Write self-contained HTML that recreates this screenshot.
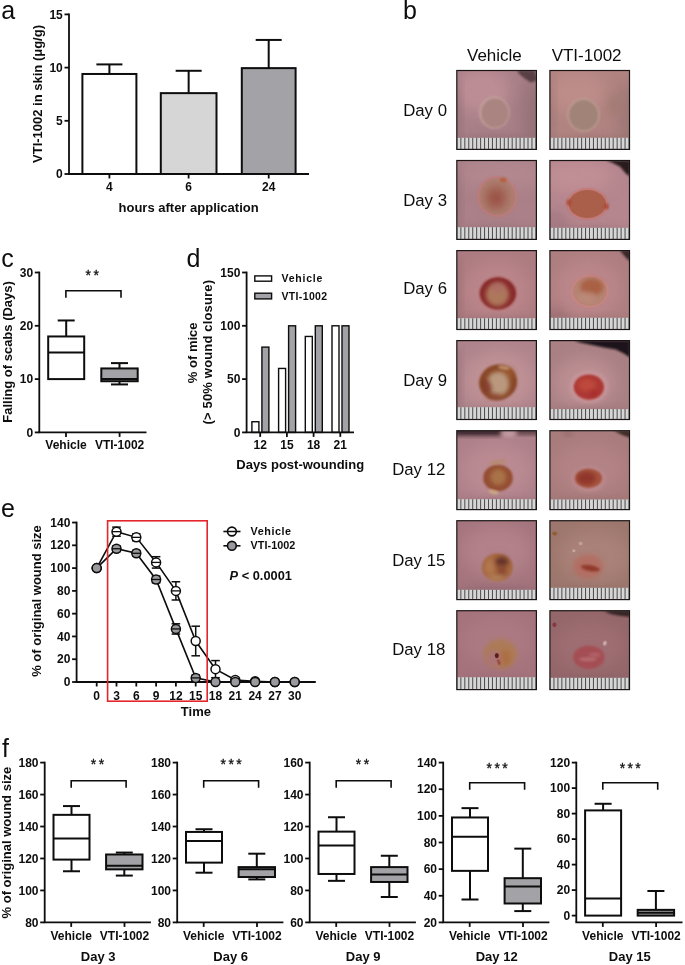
<!DOCTYPE html>
<html lang="en"><head><meta charset="utf-8"><title>Figure</title>
<style>
html,body{margin:0;padding:0;background:#fff;}
svg{display:block;font-family:"Liberation Sans",Arial,sans-serif;}
</style></head>
<body>
<svg width="685" height="965" viewBox="0 0 685 965">
<rect width="685" height="965" fill="#fff"/>
<text x="1.20" y="19.00" font-size="25" font-weight="normal" text-anchor="start" fill="#0d0d0d" >a</text>
<line x1="69.00" y1="13.50" x2="69.00" y2="174.00" stroke="#0d0d0d" stroke-width="1.8" />
<line x1="64.50" y1="14.40" x2="69.00" y2="14.40" stroke="#0d0d0d" stroke-width="1.8" />
<text x="62.80" y="18.54" font-size="12" font-weight="bold" text-anchor="end" fill="#0d0d0d" >15</text>
<line x1="64.50" y1="67.60" x2="69.00" y2="67.60" stroke="#0d0d0d" stroke-width="1.8" />
<text x="62.80" y="71.74" font-size="12" font-weight="bold" text-anchor="end" fill="#0d0d0d" >10</text>
<line x1="64.50" y1="120.80" x2="69.00" y2="120.80" stroke="#0d0d0d" stroke-width="1.8" />
<text x="62.80" y="124.94" font-size="12" font-weight="bold" text-anchor="end" fill="#0d0d0d" >5</text>
<line x1="64.50" y1="174.00" x2="69.00" y2="174.00" stroke="#0d0d0d" stroke-width="1.8" />
<text x="62.80" y="178.14" font-size="12" font-weight="bold" text-anchor="end" fill="#0d0d0d" >0</text>
<line x1="109.40" y1="64.41" x2="109.40" y2="73.98" stroke="#0d0d0d" stroke-width="2.0" />
<line x1="96.40" y1="64.41" x2="122.40" y2="64.41" stroke="#0d0d0d" stroke-width="2.0" />
<rect x="82.40" y="73.98" width="54.00" height="100.02" fill="#fff" stroke="#0d0d0d" stroke-width="2.0" />
<line x1="188.65" y1="70.79" x2="188.65" y2="93.14" stroke="#0d0d0d" stroke-width="2.0" />
<line x1="175.65" y1="70.79" x2="201.65" y2="70.79" stroke="#0d0d0d" stroke-width="2.0" />
<rect x="160.80" y="93.14" width="55.70" height="80.86" fill="#d6d6d6" stroke="#0d0d0d" stroke-width="2.0" />
<line x1="268.70" y1="39.94" x2="268.70" y2="68.13" stroke="#0d0d0d" stroke-width="2.0" />
<line x1="255.70" y1="39.94" x2="281.70" y2="39.94" stroke="#0d0d0d" stroke-width="2.0" />
<rect x="241.80" y="68.13" width="53.80" height="105.87" fill="#a3a3a7" stroke="#0d0d0d" stroke-width="2.0" />
<line x1="68.10" y1="174.00" x2="309.00" y2="174.00" stroke="#0d0d0d" stroke-width="1.8" />
<line x1="109.40" y1="174.00" x2="109.40" y2="178.50" stroke="#0d0d0d" stroke-width="1.8" />
<text x="109.40" y="191.00" font-size="12" font-weight="bold" text-anchor="middle" fill="#0d0d0d" >4</text>
<line x1="188.60" y1="174.00" x2="188.60" y2="178.50" stroke="#0d0d0d" stroke-width="1.8" />
<text x="188.60" y="191.00" font-size="12" font-weight="bold" text-anchor="middle" fill="#0d0d0d" >6</text>
<line x1="268.70" y1="174.00" x2="268.70" y2="178.50" stroke="#0d0d0d" stroke-width="1.8" />
<text x="268.70" y="191.00" font-size="12" font-weight="bold" text-anchor="middle" fill="#0d0d0d" >24</text>
<text x="188.60" y="212.00" font-size="13" font-weight="bold" text-anchor="middle" fill="#0d0d0d" >hours after application</text>
<text transform="translate(42.10 94.00) rotate(-90)" font-size="13" font-weight="bold" text-anchor="middle" fill="#0d0d0d" >VTI-1002 in skin (μg/g)</text>
<text x="1.20" y="267.10" font-size="25" font-weight="normal" text-anchor="start" fill="#0d0d0d" >c</text>
<line x1="39.30" y1="271.60" x2="39.30" y2="432.40" stroke="#0d0d0d" stroke-width="1.8" />
<line x1="34.80" y1="272.50" x2="39.30" y2="272.50" stroke="#0d0d0d" stroke-width="1.8" />
<text x="33.10" y="276.64" font-size="12" font-weight="bold" text-anchor="end" fill="#0d0d0d" >30</text>
<line x1="34.80" y1="325.80" x2="39.30" y2="325.80" stroke="#0d0d0d" stroke-width="1.8" />
<text x="33.10" y="329.94" font-size="12" font-weight="bold" text-anchor="end" fill="#0d0d0d" >20</text>
<line x1="34.80" y1="379.10" x2="39.30" y2="379.10" stroke="#0d0d0d" stroke-width="1.8" />
<text x="33.10" y="383.24" font-size="12" font-weight="bold" text-anchor="end" fill="#0d0d0d" >10</text>
<line x1="34.80" y1="432.40" x2="39.30" y2="432.40" stroke="#0d0d0d" stroke-width="1.8" />
<text x="33.10" y="436.54" font-size="12" font-weight="bold" text-anchor="end" fill="#0d0d0d" >0</text>
<line x1="38.40" y1="432.40" x2="146.50" y2="432.40" stroke="#0d0d0d" stroke-width="1.8" />
<line x1="66.00" y1="432.40" x2="66.00" y2="436.90" stroke="#0d0d0d" stroke-width="1.8" />
<text x="66.00" y="449.00" font-size="12" font-weight="bold" text-anchor="middle" fill="#0d0d0d" >Vehicle</text>
<line x1="119.60" y1="432.40" x2="119.60" y2="436.90" stroke="#0d0d0d" stroke-width="1.8" />
<text x="119.60" y="449.00" font-size="12" font-weight="bold" text-anchor="middle" fill="#0d0d0d" >VTI-1002</text>
<line x1="66.20" y1="320.47" x2="66.20" y2="336.46" stroke="#0d0d0d" stroke-width="2.0" />
<line x1="57.70" y1="320.47" x2="74.70" y2="320.47" stroke="#0d0d0d" stroke-width="2.0" />
<rect x="48.20" y="336.46" width="36.00" height="42.64" fill="#fff" stroke="#0d0d0d" stroke-width="2.0" />
<line x1="48.20" y1="352.45" x2="84.20" y2="352.45" stroke="#0d0d0d" stroke-width="2.0" />
<line x1="119.50" y1="363.11" x2="119.50" y2="368.44" stroke="#0d0d0d" stroke-width="2.0" />
<line x1="111.00" y1="363.11" x2="128.00" y2="363.11" stroke="#0d0d0d" stroke-width="2.0" />
<line x1="119.50" y1="381.23" x2="119.50" y2="384.43" stroke="#0d0d0d" stroke-width="2.0" />
<line x1="111.00" y1="384.43" x2="128.00" y2="384.43" stroke="#0d0d0d" stroke-width="2.0" />
<rect x="101.30" y="368.44" width="36.40" height="12.79" fill="#a3a3a7" stroke="#0d0d0d" stroke-width="2.0" />
<line x1="101.30" y1="379.10" x2="137.70" y2="379.10" stroke="#0d0d0d" stroke-width="2.0" />
<polyline points="65.90,297.80 65.90,290.80 121.00,290.80 121.00,297.80" fill="none" stroke="#0d0d0d" stroke-width="1.6"/>
<text x="93.45" y="280.20" font-size="14" font-weight="normal" text-anchor="middle" fill="#0d0d0d" letter-spacing="2.4" stroke="#0d0d0d" stroke-width="0.3">**</text>
<text transform="translate(12.10 351.90) rotate(-90)" font-size="13" font-weight="bold" text-anchor="middle" fill="#0d0d0d" >Falling of scabs (Days)</text>
<text x="186.60" y="267.10" font-size="25" font-weight="normal" text-anchor="start" fill="#0d0d0d" >d</text>
<line x1="246.60" y1="271.60" x2="246.60" y2="432.40" stroke="#0d0d0d" stroke-width="1.8" />
<line x1="242.10" y1="272.50" x2="246.60" y2="272.50" stroke="#0d0d0d" stroke-width="1.8" />
<text x="240.40" y="276.64" font-size="12" font-weight="bold" text-anchor="end" fill="#0d0d0d" >150</text>
<line x1="242.10" y1="325.80" x2="246.60" y2="325.80" stroke="#0d0d0d" stroke-width="1.8" />
<text x="240.40" y="329.94" font-size="12" font-weight="bold" text-anchor="end" fill="#0d0d0d" >100</text>
<line x1="242.10" y1="379.10" x2="246.60" y2="379.10" stroke="#0d0d0d" stroke-width="1.8" />
<text x="240.40" y="383.24" font-size="12" font-weight="bold" text-anchor="end" fill="#0d0d0d" >50</text>
<line x1="242.10" y1="432.40" x2="246.60" y2="432.40" stroke="#0d0d0d" stroke-width="1.8" />
<text x="240.40" y="436.54" font-size="12" font-weight="bold" text-anchor="end" fill="#0d0d0d" >0</text>
<rect x="251.90" y="421.74" width="7.00" height="10.66" fill="#fff" stroke="#0d0d0d" stroke-width="1.4" />
<rect x="261.90" y="347.12" width="7.00" height="85.28" fill="#a3a3a7" stroke="#0d0d0d" stroke-width="1.4" />
<rect x="278.60" y="368.44" width="7.00" height="63.96" fill="#fff" stroke="#0d0d0d" stroke-width="1.4" />
<rect x="288.60" y="325.80" width="7.00" height="106.60" fill="#a3a3a7" stroke="#0d0d0d" stroke-width="1.4" />
<rect x="305.30" y="336.46" width="7.00" height="95.94" fill="#fff" stroke="#0d0d0d" stroke-width="1.4" />
<rect x="315.30" y="325.80" width="7.00" height="106.60" fill="#a3a3a7" stroke="#0d0d0d" stroke-width="1.4" />
<rect x="332.00" y="325.80" width="7.00" height="106.60" fill="#fff" stroke="#0d0d0d" stroke-width="1.4" />
<rect x="342.00" y="325.80" width="7.00" height="106.60" fill="#a3a3a7" stroke="#0d0d0d" stroke-width="1.4" />
<line x1="245.70" y1="432.40" x2="354.00" y2="432.40" stroke="#0d0d0d" stroke-width="1.8" />
<line x1="260.20" y1="432.40" x2="260.20" y2="436.90" stroke="#0d0d0d" stroke-width="1.8" />
<text x="260.20" y="449.30" font-size="12" font-weight="bold" text-anchor="middle" fill="#0d0d0d" >12</text>
<line x1="286.90" y1="432.40" x2="286.90" y2="436.90" stroke="#0d0d0d" stroke-width="1.8" />
<text x="286.90" y="449.30" font-size="12" font-weight="bold" text-anchor="middle" fill="#0d0d0d" >15</text>
<line x1="313.60" y1="432.40" x2="313.60" y2="436.90" stroke="#0d0d0d" stroke-width="1.8" />
<text x="313.60" y="449.30" font-size="12" font-weight="bold" text-anchor="middle" fill="#0d0d0d" >18</text>
<line x1="340.30" y1="432.40" x2="340.30" y2="436.90" stroke="#0d0d0d" stroke-width="1.8" />
<text x="340.30" y="449.30" font-size="12" font-weight="bold" text-anchor="middle" fill="#0d0d0d" >21</text>
<text x="300.20" y="469.00" font-size="13" font-weight="bold" text-anchor="middle" fill="#0d0d0d" >Days post-wounding</text>
<text transform="translate(197.00 352.80) rotate(-90)" font-size="13" font-weight="bold" text-anchor="middle" fill="#0d0d0d" >% of mice</text>
<text transform="translate(212.40 352.20) rotate(-90)" font-size="13" font-weight="bold" text-anchor="middle" fill="#0d0d0d" textLength="144.5" lengthAdjust="spacing">(&gt; 50% wound closure)</text>
<rect x="254.80" y="275.90" width="16.80" height="5.30" fill="#fff" stroke="#0d0d0d" stroke-width="1.4" />
<rect x="254.80" y="293.20" width="16.80" height="5.70" fill="#a3a3a7" stroke="#0d0d0d" stroke-width="1.4" />
<text x="281.50" y="281.90" font-size="10.5" font-weight="bold" text-anchor="start" fill="#0d0d0d" textLength="40.9" lengthAdjust="spacing">Vehicle</text>
<text x="281.50" y="299.80" font-size="10.5" font-weight="bold" text-anchor="start" fill="#0d0d0d" textLength="45.6" lengthAdjust="spacing">VTI-1002</text>
<text x="0.90" y="517.00" font-size="25" font-weight="normal" text-anchor="start" fill="#0d0d0d" >e</text>
<line x1="76.60" y1="521.64" x2="76.60" y2="682.00" stroke="#0d0d0d" stroke-width="1.8" />
<line x1="72.10" y1="682.00" x2="76.60" y2="682.00" stroke="#0d0d0d" stroke-width="1.8" />
<text x="70.40" y="686.14" font-size="12" font-weight="bold" text-anchor="end" fill="#0d0d0d" >0</text>
<line x1="72.10" y1="659.22" x2="76.60" y2="659.22" stroke="#0d0d0d" stroke-width="1.8" />
<text x="70.40" y="663.36" font-size="12" font-weight="bold" text-anchor="end" fill="#0d0d0d" >20</text>
<line x1="72.10" y1="636.44" x2="76.60" y2="636.44" stroke="#0d0d0d" stroke-width="1.8" />
<text x="70.40" y="640.58" font-size="12" font-weight="bold" text-anchor="end" fill="#0d0d0d" >40</text>
<line x1="72.10" y1="613.66" x2="76.60" y2="613.66" stroke="#0d0d0d" stroke-width="1.8" />
<text x="70.40" y="617.80" font-size="12" font-weight="bold" text-anchor="end" fill="#0d0d0d" >60</text>
<line x1="72.10" y1="590.88" x2="76.60" y2="590.88" stroke="#0d0d0d" stroke-width="1.8" />
<text x="70.40" y="595.02" font-size="12" font-weight="bold" text-anchor="end" fill="#0d0d0d" >80</text>
<line x1="72.10" y1="568.10" x2="76.60" y2="568.10" stroke="#0d0d0d" stroke-width="1.8" />
<text x="70.40" y="572.24" font-size="12" font-weight="bold" text-anchor="end" fill="#0d0d0d" >100</text>
<line x1="72.10" y1="545.32" x2="76.60" y2="545.32" stroke="#0d0d0d" stroke-width="1.8" />
<text x="70.40" y="549.46" font-size="12" font-weight="bold" text-anchor="end" fill="#0d0d0d" >120</text>
<line x1="72.10" y1="522.54" x2="76.60" y2="522.54" stroke="#0d0d0d" stroke-width="1.8" />
<text x="70.40" y="526.68" font-size="12" font-weight="bold" text-anchor="end" fill="#0d0d0d" >140</text>
<line x1="75.70" y1="682.00" x2="315.80" y2="682.00" stroke="#0d0d0d" stroke-width="1.8" />
<line x1="96.70" y1="682.00" x2="96.70" y2="686.50" stroke="#0d0d0d" stroke-width="1.8" />
<text x="96.70" y="699.50" font-size="12" font-weight="bold" text-anchor="middle" fill="#0d0d0d" >0</text>
<line x1="116.50" y1="682.00" x2="116.50" y2="686.50" stroke="#0d0d0d" stroke-width="1.8" />
<text x="116.50" y="699.50" font-size="12" font-weight="bold" text-anchor="middle" fill="#0d0d0d" >3</text>
<line x1="136.30" y1="682.00" x2="136.30" y2="686.50" stroke="#0d0d0d" stroke-width="1.8" />
<text x="136.30" y="699.50" font-size="12" font-weight="bold" text-anchor="middle" fill="#0d0d0d" >6</text>
<line x1="156.10" y1="682.00" x2="156.10" y2="686.50" stroke="#0d0d0d" stroke-width="1.8" />
<text x="156.10" y="699.50" font-size="12" font-weight="bold" text-anchor="middle" fill="#0d0d0d" >9</text>
<line x1="175.90" y1="682.00" x2="175.90" y2="686.50" stroke="#0d0d0d" stroke-width="1.8" />
<text x="175.90" y="699.50" font-size="12" font-weight="bold" text-anchor="middle" fill="#0d0d0d" >12</text>
<line x1="195.70" y1="682.00" x2="195.70" y2="686.50" stroke="#0d0d0d" stroke-width="1.8" />
<text x="195.70" y="699.50" font-size="12" font-weight="bold" text-anchor="middle" fill="#0d0d0d" >15</text>
<line x1="215.50" y1="682.00" x2="215.50" y2="686.50" stroke="#0d0d0d" stroke-width="1.8" />
<text x="215.50" y="699.50" font-size="12" font-weight="bold" text-anchor="middle" fill="#0d0d0d" >18</text>
<line x1="235.30" y1="682.00" x2="235.30" y2="686.50" stroke="#0d0d0d" stroke-width="1.8" />
<text x="235.30" y="699.50" font-size="12" font-weight="bold" text-anchor="middle" fill="#0d0d0d" >21</text>
<line x1="255.10" y1="682.00" x2="255.10" y2="686.50" stroke="#0d0d0d" stroke-width="1.8" />
<text x="255.10" y="699.50" font-size="12" font-weight="bold" text-anchor="middle" fill="#0d0d0d" >24</text>
<line x1="274.90" y1="682.00" x2="274.90" y2="686.50" stroke="#0d0d0d" stroke-width="1.8" />
<text x="274.90" y="699.50" font-size="12" font-weight="bold" text-anchor="middle" fill="#0d0d0d" >27</text>
<line x1="294.70" y1="682.00" x2="294.70" y2="686.50" stroke="#0d0d0d" stroke-width="1.8" />
<text x="294.70" y="699.50" font-size="12" font-weight="bold" text-anchor="middle" fill="#0d0d0d" >30</text>
<text x="195.90" y="716.00" font-size="13" font-weight="bold" text-anchor="middle" fill="#0d0d0d" >Time</text>
<text transform="translate(41.20 601.00) rotate(-90)" font-size="13" font-weight="bold" text-anchor="middle" fill="#0d0d0d" >% of original wound size</text>
<polyline points="96.70,568.10 116.50,531.65 136.30,537.35 156.10,562.40 175.90,590.88 195.70,641.00 215.50,669.13 235.30,679.95 255.10,681.32 274.90,682.00 294.70,682.00" fill="none" stroke="#0d0d0d" stroke-width="1.6"/>
<line x1="116.50" y1="527.10" x2="116.50" y2="536.21" stroke="#0d0d0d" stroke-width="1.5" />
<line x1="112.20" y1="527.10" x2="120.80" y2="527.10" stroke="#0d0d0d" stroke-width="1.5" />
<line x1="112.20" y1="536.21" x2="120.80" y2="536.21" stroke="#0d0d0d" stroke-width="1.5" />
<line x1="136.30" y1="533.93" x2="136.30" y2="540.76" stroke="#0d0d0d" stroke-width="1.5" />
<line x1="132.00" y1="533.93" x2="140.60" y2="533.93" stroke="#0d0d0d" stroke-width="1.5" />
<line x1="132.00" y1="540.76" x2="140.60" y2="540.76" stroke="#0d0d0d" stroke-width="1.5" />
<line x1="156.10" y1="556.71" x2="156.10" y2="568.10" stroke="#0d0d0d" stroke-width="1.5" />
<line x1="151.80" y1="556.71" x2="160.40" y2="556.71" stroke="#0d0d0d" stroke-width="1.5" />
<line x1="151.80" y1="568.10" x2="160.40" y2="568.10" stroke="#0d0d0d" stroke-width="1.5" />
<line x1="175.90" y1="581.77" x2="175.90" y2="599.99" stroke="#0d0d0d" stroke-width="1.5" />
<line x1="171.60" y1="581.77" x2="180.20" y2="581.77" stroke="#0d0d0d" stroke-width="1.5" />
<line x1="171.60" y1="599.99" x2="180.20" y2="599.99" stroke="#0d0d0d" stroke-width="1.5" />
<line x1="195.70" y1="626.19" x2="195.70" y2="655.80" stroke="#0d0d0d" stroke-width="1.5" />
<line x1="191.40" y1="626.19" x2="200.00" y2="626.19" stroke="#0d0d0d" stroke-width="1.5" />
<line x1="191.40" y1="655.80" x2="200.00" y2="655.80" stroke="#0d0d0d" stroke-width="1.5" />
<line x1="215.50" y1="660.59" x2="215.50" y2="677.67" stroke="#0d0d0d" stroke-width="1.5" />
<line x1="211.20" y1="660.59" x2="219.80" y2="660.59" stroke="#0d0d0d" stroke-width="1.5" />
<line x1="211.20" y1="677.67" x2="219.80" y2="677.67" stroke="#0d0d0d" stroke-width="1.5" />
<line x1="235.30" y1="678.24" x2="235.30" y2="681.66" stroke="#0d0d0d" stroke-width="1.5" />
<line x1="231.00" y1="678.24" x2="239.60" y2="678.24" stroke="#0d0d0d" stroke-width="1.5" />
<line x1="231.00" y1="681.66" x2="239.60" y2="681.66" stroke="#0d0d0d" stroke-width="1.5" />
<line x1="255.10" y1="680.75" x2="255.10" y2="681.89" stroke="#0d0d0d" stroke-width="1.5" />
<line x1="250.80" y1="680.75" x2="259.40" y2="680.75" stroke="#0d0d0d" stroke-width="1.5" />
<line x1="250.80" y1="681.89" x2="259.40" y2="681.89" stroke="#0d0d0d" stroke-width="1.5" />
<circle cx="96.70" cy="568.10" r="4.5" fill="#fff" stroke="#0d0d0d" stroke-width="1.5"/>
<circle cx="116.50" cy="531.65" r="4.5" fill="#fff" stroke="#0d0d0d" stroke-width="1.5"/>
<line x1="112.00" y1="531.65" x2="121.00" y2="531.65" stroke="#0d0d0d" stroke-width="1.3" />
<circle cx="136.30" cy="537.35" r="4.5" fill="#fff" stroke="#0d0d0d" stroke-width="1.5"/>
<line x1="131.80" y1="537.35" x2="140.80" y2="537.35" stroke="#0d0d0d" stroke-width="1.3" />
<circle cx="156.10" cy="562.40" r="4.5" fill="#fff" stroke="#0d0d0d" stroke-width="1.5"/>
<line x1="151.60" y1="562.40" x2="160.60" y2="562.40" stroke="#0d0d0d" stroke-width="1.3" />
<circle cx="175.90" cy="590.88" r="4.5" fill="#fff" stroke="#0d0d0d" stroke-width="1.5"/>
<line x1="171.40" y1="590.88" x2="180.40" y2="590.88" stroke="#0d0d0d" stroke-width="1.3" />
<circle cx="195.70" cy="641.00" r="4.5" fill="#fff" stroke="#0d0d0d" stroke-width="1.5"/>
<circle cx="215.50" cy="669.13" r="4.5" fill="#fff" stroke="#0d0d0d" stroke-width="1.5"/>
<circle cx="235.30" cy="679.95" r="4.5" fill="#fff" stroke="#0d0d0d" stroke-width="1.5"/>
<circle cx="255.10" cy="681.32" r="4.5" fill="#fff" stroke="#0d0d0d" stroke-width="1.5"/>
<circle cx="274.90" cy="682.00" r="4.5" fill="#fff" stroke="#0d0d0d" stroke-width="1.5"/>
<circle cx="294.70" cy="682.00" r="4.5" fill="#fff" stroke="#0d0d0d" stroke-width="1.5"/>
<polyline points="96.70,568.10 116.50,548.74 136.30,553.29 156.10,579.49 175.90,628.92 195.70,677.90 215.50,682.00 235.30,682.00 255.10,682.00 274.90,682.00 294.70,682.00" fill="none" stroke="#0d0d0d" stroke-width="1.6"/>
<line x1="116.50" y1="545.89" x2="116.50" y2="551.58" stroke="#0d0d0d" stroke-width="1.5" />
<line x1="112.20" y1="545.89" x2="120.80" y2="545.89" stroke="#0d0d0d" stroke-width="1.5" />
<line x1="112.20" y1="551.58" x2="120.80" y2="551.58" stroke="#0d0d0d" stroke-width="1.5" />
<line x1="136.30" y1="550.45" x2="136.30" y2="556.14" stroke="#0d0d0d" stroke-width="1.5" />
<line x1="132.00" y1="550.45" x2="140.60" y2="550.45" stroke="#0d0d0d" stroke-width="1.5" />
<line x1="132.00" y1="556.14" x2="140.60" y2="556.14" stroke="#0d0d0d" stroke-width="1.5" />
<line x1="156.10" y1="576.07" x2="156.10" y2="582.91" stroke="#0d0d0d" stroke-width="1.5" />
<line x1="151.80" y1="576.07" x2="160.40" y2="576.07" stroke="#0d0d0d" stroke-width="1.5" />
<line x1="151.80" y1="582.91" x2="160.40" y2="582.91" stroke="#0d0d0d" stroke-width="1.5" />
<line x1="175.90" y1="623.80" x2="175.90" y2="634.05" stroke="#0d0d0d" stroke-width="1.5" />
<line x1="171.60" y1="623.80" x2="180.20" y2="623.80" stroke="#0d0d0d" stroke-width="1.5" />
<line x1="171.60" y1="634.05" x2="180.20" y2="634.05" stroke="#0d0d0d" stroke-width="1.5" />
<line x1="195.70" y1="675.05" x2="195.70" y2="680.75" stroke="#0d0d0d" stroke-width="1.5" />
<line x1="191.40" y1="675.05" x2="200.00" y2="675.05" stroke="#0d0d0d" stroke-width="1.5" />
<line x1="191.40" y1="680.75" x2="200.00" y2="680.75" stroke="#0d0d0d" stroke-width="1.5" />
<circle cx="96.70" cy="568.10" r="4.5" fill="#9a9a9e" stroke="#0d0d0d" stroke-width="1.5"/>
<circle cx="116.50" cy="548.74" r="4.5" fill="#9a9a9e" stroke="#0d0d0d" stroke-width="1.5"/>
<line x1="112.00" y1="548.74" x2="121.00" y2="548.74" stroke="#0d0d0d" stroke-width="1.3" />
<circle cx="136.30" cy="553.29" r="4.5" fill="#9a9a9e" stroke="#0d0d0d" stroke-width="1.5"/>
<line x1="131.80" y1="553.29" x2="140.80" y2="553.29" stroke="#0d0d0d" stroke-width="1.3" />
<circle cx="156.10" cy="579.49" r="4.5" fill="#9a9a9e" stroke="#0d0d0d" stroke-width="1.5"/>
<line x1="151.60" y1="579.49" x2="160.60" y2="579.49" stroke="#0d0d0d" stroke-width="1.3" />
<circle cx="175.90" cy="628.92" r="4.5" fill="#9a9a9e" stroke="#0d0d0d" stroke-width="1.5"/>
<line x1="171.40" y1="628.92" x2="180.40" y2="628.92" stroke="#0d0d0d" stroke-width="1.3" />
<circle cx="195.70" cy="677.90" r="4.5" fill="#9a9a9e" stroke="#0d0d0d" stroke-width="1.5"/>
<line x1="191.20" y1="677.90" x2="200.20" y2="677.90" stroke="#0d0d0d" stroke-width="1.3" />
<circle cx="215.50" cy="682.00" r="4.5" fill="#9a9a9e" stroke="#0d0d0d" stroke-width="1.5"/>
<circle cx="235.30" cy="682.00" r="4.5" fill="#9a9a9e" stroke="#0d0d0d" stroke-width="1.5"/>
<circle cx="255.10" cy="682.00" r="4.5" fill="#9a9a9e" stroke="#0d0d0d" stroke-width="1.5"/>
<circle cx="274.90" cy="682.00" r="4.5" fill="#9a9a9e" stroke="#0d0d0d" stroke-width="1.5"/>
<circle cx="294.70" cy="682.00" r="4.5" fill="#9a9a9e" stroke="#0d0d0d" stroke-width="1.5"/>
<rect x="107.6" y="520.8" width="99.6" height="180.4" fill="none" stroke="#e3262b" stroke-width="1.6"/>
<line x1="223.40" y1="531.50" x2="240.50" y2="531.50" stroke="#0d0d0d" stroke-width="1.6" />
<circle cx="231.9" cy="531.5" r="4.4" fill="#fff" stroke="#0d0d0d" stroke-width="1.6"/>
<line x1="223.40" y1="545.80" x2="240.50" y2="545.80" stroke="#0d0d0d" stroke-width="1.6" />
<circle cx="231.9" cy="545.8" r="4.4" fill="#9a9a9e" stroke="#0d0d0d" stroke-width="1.6"/>
<line x1="227.50" y1="531.50" x2="236.30" y2="531.50" stroke="#0d0d0d" stroke-width="1.5" />
<text x="250.60" y="535.20" font-size="10.8" font-weight="bold" text-anchor="start" fill="#0d0d0d" textLength="40.4" lengthAdjust="spacing">Vehicle</text>
<text x="250.60" y="549.30" font-size="10.8" font-weight="bold" text-anchor="start" fill="#0d0d0d" textLength="44.7" lengthAdjust="spacing">VTI-1002</text>
<text x="229.6" y="579.8" font-size="12.8" font-weight="bold" fill="#0d0d0d"><tspan font-style="italic">P</tspan> &lt; 0.0001</text>
<text x="2.10" y="757.00" font-size="25" font-weight="normal" text-anchor="start" fill="#0d0d0d" >f</text>
<text transform="translate(11.40 842.60) rotate(-90)" font-size="13" font-weight="bold" text-anchor="middle" fill="#0d0d0d" >% of original wound size</text>
<line x1="44.70" y1="761.70" x2="44.70" y2="922.40" stroke="#0d0d0d" stroke-width="1.8" />
<line x1="40.20" y1="762.60" x2="44.70" y2="762.60" stroke="#0d0d0d" stroke-width="1.8" />
<text x="38.50" y="766.74" font-size="12" font-weight="bold" text-anchor="end" fill="#0d0d0d" >180</text>
<line x1="40.20" y1="794.56" x2="44.70" y2="794.56" stroke="#0d0d0d" stroke-width="1.8" />
<text x="38.50" y="798.70" font-size="12" font-weight="bold" text-anchor="end" fill="#0d0d0d" >160</text>
<line x1="40.20" y1="826.52" x2="44.70" y2="826.52" stroke="#0d0d0d" stroke-width="1.8" />
<text x="38.50" y="830.66" font-size="12" font-weight="bold" text-anchor="end" fill="#0d0d0d" >140</text>
<line x1="40.20" y1="858.48" x2="44.70" y2="858.48" stroke="#0d0d0d" stroke-width="1.8" />
<text x="38.50" y="862.62" font-size="12" font-weight="bold" text-anchor="end" fill="#0d0d0d" >120</text>
<line x1="40.20" y1="890.44" x2="44.70" y2="890.44" stroke="#0d0d0d" stroke-width="1.8" />
<text x="38.50" y="894.58" font-size="12" font-weight="bold" text-anchor="end" fill="#0d0d0d" >100</text>
<line x1="40.20" y1="922.40" x2="44.70" y2="922.40" stroke="#0d0d0d" stroke-width="1.8" />
<text x="38.50" y="926.54" font-size="12" font-weight="bold" text-anchor="end" fill="#0d0d0d" >80</text>
<line x1="43.80" y1="922.40" x2="150.90" y2="922.40" stroke="#0d0d0d" stroke-width="1.8" />
<line x1="71.20" y1="922.40" x2="71.20" y2="926.90" stroke="#0d0d0d" stroke-width="1.8" />
<text x="71.20" y="939.80" font-size="12" font-weight="bold" text-anchor="middle" fill="#0d0d0d" >Vehicle</text>
<line x1="124.50" y1="922.40" x2="124.50" y2="926.90" stroke="#0d0d0d" stroke-width="1.8" />
<text x="124.50" y="939.80" font-size="12" font-weight="bold" text-anchor="middle" fill="#0d0d0d" >VTI-1002</text>
<text x="98.20" y="961.00" font-size="13" font-weight="bold" text-anchor="middle" fill="#0d0d0d" >Day 3</text>
<line x1="71.50" y1="806.07" x2="71.50" y2="814.85" stroke="#0d0d0d" stroke-width="2.0" />
<line x1="63.00" y1="806.07" x2="80.00" y2="806.07" stroke="#0d0d0d" stroke-width="2.0" />
<line x1="71.50" y1="859.60" x2="71.50" y2="871.26" stroke="#0d0d0d" stroke-width="2.0" />
<line x1="63.00" y1="871.26" x2="80.00" y2="871.26" stroke="#0d0d0d" stroke-width="2.0" />
<rect x="53.50" y="814.85" width="36.00" height="44.74" fill="#fff" stroke="#0d0d0d" stroke-width="2.0" />
<line x1="53.50" y1="838.50" x2="89.50" y2="838.50" stroke="#0d0d0d" stroke-width="2.0" />
<line x1="124.30" y1="852.57" x2="124.30" y2="854.49" stroke="#0d0d0d" stroke-width="2.0" />
<line x1="115.80" y1="852.57" x2="132.80" y2="852.57" stroke="#0d0d0d" stroke-width="2.0" />
<line x1="124.30" y1="869.35" x2="124.30" y2="875.58" stroke="#0d0d0d" stroke-width="2.0" />
<line x1="115.80" y1="875.58" x2="132.80" y2="875.58" stroke="#0d0d0d" stroke-width="2.0" />
<rect x="106.10" y="854.49" width="36.40" height="14.86" fill="#a3a3a7" stroke="#0d0d0d" stroke-width="2.0" />
<line x1="106.10" y1="865.83" x2="142.50" y2="865.83" stroke="#0d0d0d" stroke-width="2.0" />
<polyline points="71.20,787.80 71.20,780.70 126.10,780.70 126.10,787.80" fill="none" stroke="#0d0d0d" stroke-width="1.6"/>
<text x="98.65" y="769.00" font-size="14" font-weight="normal" text-anchor="middle" fill="#0d0d0d" letter-spacing="2.4" stroke="#0d0d0d" stroke-width="0.3">**</text>
<line x1="177.20" y1="761.70" x2="177.20" y2="922.40" stroke="#0d0d0d" stroke-width="1.8" />
<line x1="172.70" y1="762.60" x2="177.20" y2="762.60" stroke="#0d0d0d" stroke-width="1.8" />
<text x="171.00" y="766.74" font-size="12" font-weight="bold" text-anchor="end" fill="#0d0d0d" >180</text>
<line x1="172.70" y1="794.56" x2="177.20" y2="794.56" stroke="#0d0d0d" stroke-width="1.8" />
<text x="171.00" y="798.70" font-size="12" font-weight="bold" text-anchor="end" fill="#0d0d0d" >160</text>
<line x1="172.70" y1="826.52" x2="177.20" y2="826.52" stroke="#0d0d0d" stroke-width="1.8" />
<text x="171.00" y="830.66" font-size="12" font-weight="bold" text-anchor="end" fill="#0d0d0d" >140</text>
<line x1="172.70" y1="858.48" x2="177.20" y2="858.48" stroke="#0d0d0d" stroke-width="1.8" />
<text x="171.00" y="862.62" font-size="12" font-weight="bold" text-anchor="end" fill="#0d0d0d" >120</text>
<line x1="172.70" y1="890.44" x2="177.20" y2="890.44" stroke="#0d0d0d" stroke-width="1.8" />
<text x="171.00" y="894.58" font-size="12" font-weight="bold" text-anchor="end" fill="#0d0d0d" >100</text>
<line x1="172.70" y1="922.40" x2="177.20" y2="922.40" stroke="#0d0d0d" stroke-width="1.8" />
<text x="171.00" y="926.54" font-size="12" font-weight="bold" text-anchor="end" fill="#0d0d0d" >80</text>
<line x1="176.30" y1="922.40" x2="283.40" y2="922.40" stroke="#0d0d0d" stroke-width="1.8" />
<line x1="203.70" y1="922.40" x2="203.70" y2="926.90" stroke="#0d0d0d" stroke-width="1.8" />
<text x="203.70" y="939.80" font-size="12" font-weight="bold" text-anchor="middle" fill="#0d0d0d" >Vehicle</text>
<line x1="257.00" y1="922.40" x2="257.00" y2="926.90" stroke="#0d0d0d" stroke-width="1.8" />
<text x="257.00" y="939.80" font-size="12" font-weight="bold" text-anchor="middle" fill="#0d0d0d" >VTI-1002</text>
<text x="230.70" y="961.00" font-size="13" font-weight="bold" text-anchor="middle" fill="#0d0d0d" >Day 6</text>
<line x1="204.00" y1="829.24" x2="204.00" y2="831.95" stroke="#0d0d0d" stroke-width="2.0" />
<line x1="195.50" y1="829.24" x2="212.50" y2="829.24" stroke="#0d0d0d" stroke-width="2.0" />
<line x1="204.00" y1="862.63" x2="204.00" y2="872.70" stroke="#0d0d0d" stroke-width="2.0" />
<line x1="195.50" y1="872.70" x2="212.50" y2="872.70" stroke="#0d0d0d" stroke-width="2.0" />
<rect x="186.00" y="831.95" width="36.00" height="30.68" fill="#fff" stroke="#0d0d0d" stroke-width="2.0" />
<line x1="186.00" y1="841.06" x2="222.00" y2="841.06" stroke="#0d0d0d" stroke-width="2.0" />
<line x1="256.80" y1="853.69" x2="256.80" y2="867.11" stroke="#0d0d0d" stroke-width="2.0" />
<line x1="248.30" y1="853.69" x2="265.30" y2="853.69" stroke="#0d0d0d" stroke-width="2.0" />
<line x1="256.80" y1="877.02" x2="256.80" y2="879.41" stroke="#0d0d0d" stroke-width="2.0" />
<line x1="248.30" y1="879.41" x2="265.30" y2="879.41" stroke="#0d0d0d" stroke-width="2.0" />
<rect x="238.60" y="867.11" width="36.40" height="9.91" fill="#a3a3a7" stroke="#0d0d0d" stroke-width="2.0" />
<line x1="238.60" y1="869.35" x2="275.00" y2="869.35" stroke="#0d0d0d" stroke-width="2.0" />
<polyline points="203.70,787.80 203.70,780.70 258.60,780.70 258.60,787.80" fill="none" stroke="#0d0d0d" stroke-width="1.6"/>
<text x="232.35" y="769.00" font-size="14" font-weight="normal" text-anchor="middle" fill="#0d0d0d" letter-spacing="2.4" stroke="#0d0d0d" stroke-width="0.3">***</text>
<line x1="309.70" y1="761.70" x2="309.70" y2="922.40" stroke="#0d0d0d" stroke-width="1.8" />
<line x1="305.20" y1="762.60" x2="309.70" y2="762.60" stroke="#0d0d0d" stroke-width="1.8" />
<text x="303.50" y="766.74" font-size="12" font-weight="bold" text-anchor="end" fill="#0d0d0d" >160</text>
<line x1="305.20" y1="794.56" x2="309.70" y2="794.56" stroke="#0d0d0d" stroke-width="1.8" />
<text x="303.50" y="798.70" font-size="12" font-weight="bold" text-anchor="end" fill="#0d0d0d" >140</text>
<line x1="305.20" y1="826.52" x2="309.70" y2="826.52" stroke="#0d0d0d" stroke-width="1.8" />
<text x="303.50" y="830.66" font-size="12" font-weight="bold" text-anchor="end" fill="#0d0d0d" >120</text>
<line x1="305.20" y1="858.48" x2="309.70" y2="858.48" stroke="#0d0d0d" stroke-width="1.8" />
<text x="303.50" y="862.62" font-size="12" font-weight="bold" text-anchor="end" fill="#0d0d0d" >100</text>
<line x1="305.20" y1="890.44" x2="309.70" y2="890.44" stroke="#0d0d0d" stroke-width="1.8" />
<text x="303.50" y="894.58" font-size="12" font-weight="bold" text-anchor="end" fill="#0d0d0d" >80</text>
<line x1="305.20" y1="922.40" x2="309.70" y2="922.40" stroke="#0d0d0d" stroke-width="1.8" />
<text x="303.50" y="926.54" font-size="12" font-weight="bold" text-anchor="end" fill="#0d0d0d" >60</text>
<line x1="308.80" y1="922.40" x2="415.90" y2="922.40" stroke="#0d0d0d" stroke-width="1.8" />
<line x1="336.20" y1="922.40" x2="336.20" y2="926.90" stroke="#0d0d0d" stroke-width="1.8" />
<text x="336.20" y="939.80" font-size="12" font-weight="bold" text-anchor="middle" fill="#0d0d0d" >Vehicle</text>
<line x1="389.50" y1="922.40" x2="389.50" y2="926.90" stroke="#0d0d0d" stroke-width="1.8" />
<text x="389.50" y="939.80" font-size="12" font-weight="bold" text-anchor="middle" fill="#0d0d0d" >VTI-1002</text>
<text x="363.20" y="961.00" font-size="13" font-weight="bold" text-anchor="middle" fill="#0d0d0d" >Day 9</text>
<line x1="336.50" y1="817.25" x2="336.50" y2="831.63" stroke="#0d0d0d" stroke-width="2.0" />
<line x1="328.00" y1="817.25" x2="345.00" y2="817.25" stroke="#0d0d0d" stroke-width="2.0" />
<line x1="336.50" y1="873.98" x2="336.50" y2="880.85" stroke="#0d0d0d" stroke-width="2.0" />
<line x1="328.00" y1="880.85" x2="345.00" y2="880.85" stroke="#0d0d0d" stroke-width="2.0" />
<rect x="318.50" y="831.63" width="36.00" height="42.35" fill="#fff" stroke="#0d0d0d" stroke-width="2.0" />
<line x1="318.50" y1="845.54" x2="354.50" y2="845.54" stroke="#0d0d0d" stroke-width="2.0" />
<line x1="389.30" y1="855.76" x2="389.30" y2="867.11" stroke="#0d0d0d" stroke-width="2.0" />
<line x1="380.80" y1="855.76" x2="397.80" y2="855.76" stroke="#0d0d0d" stroke-width="2.0" />
<line x1="389.30" y1="881.97" x2="389.30" y2="896.99" stroke="#0d0d0d" stroke-width="2.0" />
<line x1="380.80" y1="896.99" x2="397.80" y2="896.99" stroke="#0d0d0d" stroke-width="2.0" />
<rect x="371.10" y="867.11" width="36.40" height="14.86" fill="#a3a3a7" stroke="#0d0d0d" stroke-width="2.0" />
<line x1="371.10" y1="874.62" x2="407.50" y2="874.62" stroke="#0d0d0d" stroke-width="2.0" />
<polyline points="336.20,787.80 336.20,780.70 391.10,780.70 391.10,787.80" fill="none" stroke="#0d0d0d" stroke-width="1.6"/>
<text x="363.65" y="769.00" font-size="14" font-weight="normal" text-anchor="middle" fill="#0d0d0d" letter-spacing="2.4" stroke="#0d0d0d" stroke-width="0.3">**</text>
<line x1="443.20" y1="761.70" x2="443.20" y2="922.40" stroke="#0d0d0d" stroke-width="1.8" />
<line x1="438.70" y1="762.60" x2="443.20" y2="762.60" stroke="#0d0d0d" stroke-width="1.8" />
<text x="437.00" y="766.74" font-size="12" font-weight="bold" text-anchor="end" fill="#0d0d0d" >140</text>
<line x1="438.70" y1="789.23" x2="443.20" y2="789.23" stroke="#0d0d0d" stroke-width="1.8" />
<text x="437.00" y="793.37" font-size="12" font-weight="bold" text-anchor="end" fill="#0d0d0d" >120</text>
<line x1="438.70" y1="815.87" x2="443.20" y2="815.87" stroke="#0d0d0d" stroke-width="1.8" />
<text x="437.00" y="820.01" font-size="12" font-weight="bold" text-anchor="end" fill="#0d0d0d" >100</text>
<line x1="438.70" y1="842.50" x2="443.20" y2="842.50" stroke="#0d0d0d" stroke-width="1.8" />
<text x="437.00" y="846.64" font-size="12" font-weight="bold" text-anchor="end" fill="#0d0d0d" >80</text>
<line x1="438.70" y1="869.14" x2="443.20" y2="869.14" stroke="#0d0d0d" stroke-width="1.8" />
<text x="437.00" y="873.28" font-size="12" font-weight="bold" text-anchor="end" fill="#0d0d0d" >60</text>
<line x1="438.70" y1="895.77" x2="443.20" y2="895.77" stroke="#0d0d0d" stroke-width="1.8" />
<text x="437.00" y="899.91" font-size="12" font-weight="bold" text-anchor="end" fill="#0d0d0d" >40</text>
<line x1="438.70" y1="922.40" x2="443.20" y2="922.40" stroke="#0d0d0d" stroke-width="1.8" />
<text x="437.00" y="926.54" font-size="12" font-weight="bold" text-anchor="end" fill="#0d0d0d" >20</text>
<line x1="442.30" y1="922.40" x2="549.40" y2="922.40" stroke="#0d0d0d" stroke-width="1.8" />
<line x1="469.70" y1="922.40" x2="469.70" y2="926.90" stroke="#0d0d0d" stroke-width="1.8" />
<text x="469.70" y="939.80" font-size="12" font-weight="bold" text-anchor="middle" fill="#0d0d0d" >Vehicle</text>
<line x1="523.00" y1="922.40" x2="523.00" y2="926.90" stroke="#0d0d0d" stroke-width="1.8" />
<text x="523.00" y="939.80" font-size="12" font-weight="bold" text-anchor="middle" fill="#0d0d0d" >VTI-1002</text>
<text x="496.70" y="961.00" font-size="13" font-weight="bold" text-anchor="middle" fill="#0d0d0d" >Day 12</text>
<line x1="470.00" y1="808.14" x2="470.00" y2="817.47" stroke="#0d0d0d" stroke-width="2.0" />
<line x1="461.50" y1="808.14" x2="478.50" y2="808.14" stroke="#0d0d0d" stroke-width="2.0" />
<line x1="470.00" y1="870.87" x2="470.00" y2="899.50" stroke="#0d0d0d" stroke-width="2.0" />
<line x1="461.50" y1="899.50" x2="478.50" y2="899.50" stroke="#0d0d0d" stroke-width="2.0" />
<rect x="452.00" y="817.47" width="36.00" height="53.40" fill="#fff" stroke="#0d0d0d" stroke-width="2.0" />
<line x1="452.00" y1="836.78" x2="488.00" y2="836.78" stroke="#0d0d0d" stroke-width="2.0" />
<line x1="522.80" y1="848.63" x2="522.80" y2="878.19" stroke="#0d0d0d" stroke-width="2.0" />
<line x1="514.30" y1="848.63" x2="531.30" y2="848.63" stroke="#0d0d0d" stroke-width="2.0" />
<line x1="522.80" y1="903.49" x2="522.80" y2="911.08" stroke="#0d0d0d" stroke-width="2.0" />
<line x1="514.30" y1="911.08" x2="531.30" y2="911.08" stroke="#0d0d0d" stroke-width="2.0" />
<rect x="504.60" y="878.19" width="36.40" height="25.30" fill="#a3a3a7" stroke="#0d0d0d" stroke-width="2.0" />
<line x1="504.60" y1="886.45" x2="541.00" y2="886.45" stroke="#0d0d0d" stroke-width="2.0" />
<polyline points="469.70,789.80 469.70,782.70 524.60,782.70 524.60,789.80" fill="none" stroke="#0d0d0d" stroke-width="1.6"/>
<text x="498.35" y="772.70" font-size="14" font-weight="normal" text-anchor="middle" fill="#0d0d0d" letter-spacing="2.4" stroke="#0d0d0d" stroke-width="0.3">***</text>
<line x1="576.30" y1="761.70" x2="576.30" y2="922.40" stroke="#0d0d0d" stroke-width="1.8" />
<line x1="571.80" y1="762.60" x2="576.30" y2="762.60" stroke="#0d0d0d" stroke-width="1.8" />
<text x="570.10" y="766.74" font-size="12" font-weight="bold" text-anchor="end" fill="#0d0d0d" >120</text>
<line x1="571.80" y1="788.10" x2="576.30" y2="788.10" stroke="#0d0d0d" stroke-width="1.8" />
<text x="570.10" y="792.24" font-size="12" font-weight="bold" text-anchor="end" fill="#0d0d0d" >100</text>
<line x1="571.80" y1="813.60" x2="576.30" y2="813.60" stroke="#0d0d0d" stroke-width="1.8" />
<text x="570.10" y="817.74" font-size="12" font-weight="bold" text-anchor="end" fill="#0d0d0d" >80</text>
<line x1="571.80" y1="839.10" x2="576.30" y2="839.10" stroke="#0d0d0d" stroke-width="1.8" />
<text x="570.10" y="843.24" font-size="12" font-weight="bold" text-anchor="end" fill="#0d0d0d" >60</text>
<line x1="571.80" y1="864.60" x2="576.30" y2="864.60" stroke="#0d0d0d" stroke-width="1.8" />
<text x="570.10" y="868.74" font-size="12" font-weight="bold" text-anchor="end" fill="#0d0d0d" >40</text>
<line x1="571.80" y1="890.10" x2="576.30" y2="890.10" stroke="#0d0d0d" stroke-width="1.8" />
<text x="570.10" y="894.24" font-size="12" font-weight="bold" text-anchor="end" fill="#0d0d0d" >20</text>
<line x1="571.80" y1="915.60" x2="576.30" y2="915.60" stroke="#0d0d0d" stroke-width="1.8" />
<text x="570.10" y="919.74" font-size="12" font-weight="bold" text-anchor="end" fill="#0d0d0d" >0</text>
<line x1="575.40" y1="922.40" x2="682.50" y2="922.40" stroke="#0d0d0d" stroke-width="1.8" />
<line x1="602.80" y1="922.40" x2="602.80" y2="926.90" stroke="#0d0d0d" stroke-width="1.8" />
<text x="602.80" y="939.80" font-size="12" font-weight="bold" text-anchor="middle" fill="#0d0d0d" >Vehicle</text>
<line x1="656.10" y1="922.40" x2="656.10" y2="926.90" stroke="#0d0d0d" stroke-width="1.8" />
<text x="656.10" y="939.80" font-size="12" font-weight="bold" text-anchor="middle" fill="#0d0d0d" >VTI-1002</text>
<text x="629.80" y="961.00" font-size="13" font-weight="bold" text-anchor="middle" fill="#0d0d0d" >Day 15</text>
<line x1="603.10" y1="803.78" x2="603.10" y2="810.41" stroke="#0d0d0d" stroke-width="2.0" />
<line x1="594.60" y1="803.78" x2="611.60" y2="803.78" stroke="#0d0d0d" stroke-width="2.0" />
<rect x="585.10" y="810.41" width="36.00" height="105.19" fill="#fff" stroke="#0d0d0d" stroke-width="2.0" />
<line x1="585.10" y1="898.51" x2="621.10" y2="898.51" stroke="#0d0d0d" stroke-width="2.0" />
<line x1="655.90" y1="890.99" x2="655.90" y2="909.86" stroke="#0d0d0d" stroke-width="2.0" />
<line x1="647.40" y1="890.99" x2="664.40" y2="890.99" stroke="#0d0d0d" stroke-width="2.0" />
<rect x="637.70" y="909.86" width="36.40" height="5.74" fill="#a3a3a7" stroke="#0d0d0d" stroke-width="2.0" />
<line x1="637.70" y1="912.80" x2="674.10" y2="912.80" stroke="#0d0d0d" stroke-width="2.0" />
<polyline points="602.80,789.80 602.80,782.70 657.70,782.70 657.70,789.80" fill="none" stroke="#0d0d0d" stroke-width="1.6"/>
<text x="631.45" y="772.70" font-size="14" font-weight="normal" text-anchor="middle" fill="#0d0d0d" letter-spacing="2.4" stroke="#0d0d0d" stroke-width="0.3">***</text>
<text x="403.00" y="19.00" font-size="25" font-weight="normal" text-anchor="start" fill="#0d0d0d" >b</text>
<text x="494.40" y="61.00" font-size="17" font-weight="normal" text-anchor="middle" fill="#0d0d0d" >Vehicle</text>
<text x="586.60" y="61.00" font-size="17" font-weight="normal" text-anchor="middle" fill="#0d0d0d" >VTI-1002</text>
<defs>
<filter id="bl05" x="-20%" y="-20%" width="140%" height="140%"><feGaussianBlur stdDeviation="0.5"/></filter>
<filter id="bl1" x="-20%" y="-20%" width="140%" height="140%"><feGaussianBlur stdDeviation="1"/></filter>
<filter id="bl2" x="-30%" y="-30%" width="160%" height="160%"><feGaussianBlur stdDeviation="2"/></filter>
<filter id="bl4" x="-50%" y="-50%" width="200%" height="200%"><feGaussianBlur stdDeviation="4"/></filter>
<filter id="bl8" x="-80%" y="-80%" width="260%" height="260%"><feGaussianBlur stdDeviation="8"/></filter>
<clipPath id="pc"><rect x="0" y="0" width="79.6" height="78.9"/></clipPath>
</defs>
<text x="447.00" y="115.70" font-size="16.8" font-weight="normal" text-anchor="end" fill="#0d0d0d" >Day 0</text>
<g transform="translate(456.8 70.5)"><g clip-path="url(#pc)">
<rect width="80" height="80" fill="#a98088"/>
<ellipse cx="24" cy="20" rx="30" ry="22" fill="#be8e96" opacity="0.95" filter="url(#bl8)"/>
<ellipse cx="80" cy="45" rx="14" ry="40" fill="#926f75" opacity="0.9" filter="url(#bl8)"/>
<ellipse cx="40" cy="76" rx="50" ry="10" fill="#8a676d" opacity="0.8" filter="url(#bl4)"/>
<ellipse cx="0" cy="45" rx="4" ry="40" fill="#906d73" opacity="0.7" filter="url(#bl4)"/>
<polygon points="60,0 78,0 80,10 74,12 68,8 63,4" fill="#4c363a" opacity="0.85" filter="url(#bl1)"/>
<ellipse cx="37.5" cy="42" rx="15.5" ry="16.2" fill="#c2a19d" opacity="0.8" filter="url(#bl1)"/>
<ellipse cx="38.2" cy="42.5" rx="13.6" ry="14.4" fill="#aa8480" opacity="1" filter="url(#bl1)"/>
<rect x="0" y="67.3" width="80" height="12.700000000000003" fill="#d6d6d6"/>
<path d="M0.10 67.3V80M4.05 67.3V80M8.00 67.3V80M11.95 67.3V80M15.90 67.3V80M19.85 67.3V80M23.80 67.3V80M27.75 67.3V80M31.70 67.3V80M35.65 67.3V80M39.60 67.3V80M43.55 67.3V80M47.50 67.3V80M51.45 67.3V80M55.40 67.3V80M59.35 67.3V80M63.30 67.3V80M67.25 67.3V80M71.20 67.3V80M75.15 67.3V80M79.10 67.3V80" stroke="#505050" stroke-width="1.05" fill="none"/>
</g>
<rect x="0" y="0" width="79.6" height="78.9" fill="none" stroke="#1a1414" stroke-width="1.2"/>
</g>
<g transform="translate(549.9 70.5)"><g clip-path="url(#pc)">
<rect width="80" height="80" fill="#b18482"/>
<ellipse cx="26" cy="22" rx="30" ry="20" fill="#bf8e8a" opacity="0.9" filter="url(#bl8)"/>
<ellipse cx="80" cy="50" rx="12" ry="40" fill="#987371" opacity="0.8" filter="url(#bl8)"/>
<ellipse cx="40" cy="76" rx="50" ry="9" fill="#906b6b" opacity="0.8" filter="url(#bl4)"/>
<ellipse cx="0" cy="45" rx="4" ry="40" fill="#987371" opacity="0.6" filter="url(#bl4)"/>
<ellipse cx="64" cy="34" rx="7" ry="9" fill="#9d7a6d" opacity="0.6" filter="url(#bl4)"/>
<ellipse cx="33.5" cy="44.5" rx="16.5" ry="17" fill="#be9d94" opacity="0.8" filter="url(#bl1)"/>
<ellipse cx="33.7" cy="44.7" rx="14.6" ry="15.1" fill="#a18477" opacity="1" filter="url(#bl1)"/>
<rect x="0" y="67.3" width="80" height="12.700000000000003" fill="#d6d6d6"/>
<path d="M0.10 67.3V80M4.05 67.3V80M8.00 67.3V80M11.95 67.3V80M15.90 67.3V80M19.85 67.3V80M23.80 67.3V80M27.75 67.3V80M31.70 67.3V80M35.65 67.3V80M39.60 67.3V80M43.55 67.3V80M47.50 67.3V80M51.45 67.3V80M55.40 67.3V80M59.35 67.3V80M63.30 67.3V80M67.25 67.3V80M71.20 67.3V80M75.15 67.3V80M79.10 67.3V80" stroke="#505050" stroke-width="1.05" fill="none"/>
</g>
<rect x="0" y="0" width="79.6" height="78.9" fill="none" stroke="#1a1414" stroke-width="1.2"/>
</g>
<text x="447.00" y="205.90" font-size="16.8" font-weight="normal" text-anchor="end" fill="#0d0d0d" >Day 3</text>
<g transform="translate(456.8 160.5)"><g clip-path="url(#pc)">
<rect width="80" height="80" fill="#ab8088"/>
<ellipse cx="45" cy="14" rx="45" ry="14" fill="#b58a92" opacity="0.8" filter="url(#bl8)"/>
<ellipse cx="0" cy="45" rx="4" ry="40" fill="#906d75" opacity="0.6" filter="url(#bl4)"/>
<ellipse cx="40" cy="76" rx="50" ry="9" fill="#8e696f" opacity="0.8" filter="url(#bl4)"/>
<ellipse cx="40.5" cy="36" rx="19.5" ry="20" fill="#ad8073" opacity="1" filter="url(#bl1)" transform="rotate(-20 40.5 36)"/>
<ellipse cx="40.5" cy="36" rx="18.8" ry="19.6" fill="none" opacity="0.95" filter="url(#bl05)" stroke="#c67c84" stroke-width="1.4" transform="rotate(-20 40.5 36)"/>
<ellipse cx="39.5" cy="37" rx="13" ry="14" fill="#a56b5b" opacity="0.95" filter="url(#bl4)"/>
<ellipse cx="39" cy="37.5" rx="7" ry="8" fill="#984e42" opacity="0.9" filter="url(#bl4)"/>
<ellipse cx="46.5" cy="19.5" rx="3.2" ry="2.2" fill="#b55b3a" opacity="0.95" filter="url(#bl1)"/>
<rect x="0" y="66.7" width="80" height="13.299999999999997" fill="#d6d6d6"/>
<path d="M0.10 66.7V80M4.05 66.7V80M8.00 66.7V80M11.95 66.7V80M15.90 66.7V80M19.85 66.7V80M23.80 66.7V80M27.75 66.7V80M31.70 66.7V80M35.65 66.7V80M39.60 66.7V80M43.55 66.7V80M47.50 66.7V80M51.45 66.7V80M55.40 66.7V80M59.35 66.7V80M63.30 66.7V80M67.25 66.7V80M71.20 66.7V80M75.15 66.7V80M79.10 66.7V80" stroke="#505050" stroke-width="1.05" fill="none"/>
</g>
<rect x="0" y="0" width="79.6" height="78.9" fill="none" stroke="#1a1414" stroke-width="1.2"/>
</g>
<g transform="translate(549.9 160.5)"><g clip-path="url(#pc)">
<rect width="80" height="80" fill="#b5868e"/>
<ellipse cx="28" cy="16" rx="36" ry="16" fill="#c29096" opacity="0.9" filter="url(#bl8)"/>
<ellipse cx="5" cy="68" rx="14" ry="18" fill="#9d737e" opacity="0.6" filter="url(#bl4)"/>
<ellipse cx="45" cy="76" rx="45" ry="9" fill="#946d75" opacity="0.8" filter="url(#bl4)"/>
<polygon points="56,0 80,0 80,16 76,13 70,6 62,2" fill="#211517" opacity="0.95" filter="url(#bl1)"/>
<ellipse cx="37.5" cy="43.5" rx="19.6" ry="15" fill="#a95f4a" opacity="1" filter="url(#bl1)"/>
<ellipse cx="37.5" cy="43.5" rx="19.6" ry="15" fill="none" opacity="0.95" filter="url(#bl05)" stroke="#ca7c7c" stroke-width="1.5"/>
<ellipse cx="19" cy="42" rx="2.5" ry="3" fill="#ad4231" opacity="0.8" filter="url(#bl1)"/>
<ellipse cx="56.5" cy="46" rx="2.5" ry="3" fill="#ad4231" opacity="0.8" filter="url(#bl1)"/>
<rect x="0" y="67.3" width="80" height="12.700000000000003" fill="#d6d6d6"/>
<path d="M0.10 67.3V80M4.05 67.3V80M8.00 67.3V80M11.95 67.3V80M15.90 67.3V80M19.85 67.3V80M23.80 67.3V80M27.75 67.3V80M31.70 67.3V80M35.65 67.3V80M39.60 67.3V80M43.55 67.3V80M47.50 67.3V80M51.45 67.3V80M55.40 67.3V80M59.35 67.3V80M63.30 67.3V80M67.25 67.3V80M71.20 67.3V80M75.15 67.3V80M79.10 67.3V80" stroke="#505050" stroke-width="1.05" fill="none"/>
</g>
<rect x="0" y="0" width="79.6" height="78.9" fill="none" stroke="#1a1414" stroke-width="1.2"/>
</g>
<text x="447.00" y="293.50" font-size="16.8" font-weight="normal" text-anchor="end" fill="#0d0d0d" >Day 6</text>
<g transform="translate(456.8 250.6)"><g clip-path="url(#pc)">
<rect width="80" height="80" fill="#ad7c82"/>
<ellipse cx="40" cy="40" rx="34" ry="30" fill="#be888c" opacity="0.8" filter="url(#bl8)"/>
<ellipse cx="40" cy="77" rx="50" ry="9" fill="#90696f" opacity="0.8" filter="url(#bl4)"/>
<ellipse cx="0" cy="45" rx="4" ry="40" fill="#946b71" opacity="0.6" filter="url(#bl4)"/>
<ellipse cx="41.1" cy="42.7" rx="19.6" ry="17.4" fill="#be8084" opacity="0.8" filter="url(#bl1)"/>
<ellipse cx="41.1" cy="42.7" rx="18.3" ry="16.1" fill="#882b29" opacity="1" filter="url(#bl1)"/>
<ellipse cx="40.6" cy="44" rx="11.6" ry="11.4" fill="#ad775b" opacity="1" filter="url(#bl2)"/>
<ellipse cx="41" cy="36.5" rx="7" ry="4.5" fill="#ad6b67" opacity="0.8" filter="url(#bl2)"/>
<rect x="0" y="67.6" width="80" height="12.400000000000006" fill="#d6d6d6"/>
<path d="M0.10 67.6V80M4.05 67.6V80M8.00 67.6V80M11.95 67.6V80M15.90 67.6V80M19.85 67.6V80M23.80 67.6V80M27.75 67.6V80M31.70 67.6V80M35.65 67.6V80M39.60 67.6V80M43.55 67.6V80M47.50 67.6V80M51.45 67.6V80M55.40 67.6V80M59.35 67.6V80M63.30 67.6V80M67.25 67.6V80M71.20 67.6V80M75.15 67.6V80M79.10 67.6V80" stroke="#505050" stroke-width="1.05" fill="none"/>
</g>
<rect x="0" y="0" width="79.6" height="78.9" fill="none" stroke="#1a1414" stroke-width="1.2"/>
</g>
<g transform="translate(549.9 250.6)"><g clip-path="url(#pc)">
<rect width="80" height="80" fill="#ad7e80"/>
<ellipse cx="38" cy="38" rx="34" ry="30" fill="#be888c" opacity="0.8" filter="url(#bl8)"/>
<ellipse cx="5" cy="72" rx="15" ry="14" fill="#986b6f" opacity="0.6" filter="url(#bl4)"/>
<ellipse cx="45" cy="77" rx="45" ry="8" fill="#92696b" opacity="0.8" filter="url(#bl4)"/>
<polygon points="70,0 80,0 80,11 76,7" fill="#2b1b1d" opacity="0.9" filter="url(#bl1)"/>
<ellipse cx="40" cy="40.7" rx="17.8" ry="15.5" fill="#b58473" opacity="1" filter="url(#bl1)"/>
<ellipse cx="40" cy="40.7" rx="17.8" ry="15.5" fill="none" opacity="0.95" filter="url(#bl05)" stroke="#ce8484" stroke-width="1.5"/>
<ellipse cx="42" cy="36.5" rx="11.5" ry="8.5" fill="#a95f42" opacity="0.95" filter="url(#bl2)"/>
<ellipse cx="37" cy="46.5" rx="9" ry="5.5" fill="#be8c7c" opacity="0.7" filter="url(#bl2)"/>
<rect x="0" y="67.2" width="80" height="12.799999999999997" fill="#d6d6d6"/>
<path d="M0.10 67.2V80M4.05 67.2V80M8.00 67.2V80M11.95 67.2V80M15.90 67.2V80M19.85 67.2V80M23.80 67.2V80M27.75 67.2V80M31.70 67.2V80M35.65 67.2V80M39.60 67.2V80M43.55 67.2V80M47.50 67.2V80M51.45 67.2V80M55.40 67.2V80M59.35 67.2V80M63.30 67.2V80M67.25 67.2V80M71.20 67.2V80M75.15 67.2V80M79.10 67.2V80" stroke="#505050" stroke-width="1.05" fill="none"/>
</g>
<rect x="0" y="0" width="79.6" height="78.9" fill="none" stroke="#1a1414" stroke-width="1.2"/>
</g>
<text x="447.00" y="385.90" font-size="16.8" font-weight="normal" text-anchor="end" fill="#0d0d0d" >Day 9</text>
<g transform="translate(456.8 340.6)"><g clip-path="url(#pc)">
<rect width="80" height="80" fill="#af848c"/>
<ellipse cx="42" cy="40" rx="36" ry="30" fill="#c29498" opacity="0.8" filter="url(#bl8)"/>
<ellipse cx="0" cy="45" rx="4" ry="40" fill="#906d73" opacity="0.6" filter="url(#bl4)"/>
<ellipse cx="40" cy="77" rx="50" ry="8" fill="#906b71" opacity="0.8" filter="url(#bl4)"/>
<ellipse cx="41.4" cy="41.7" rx="19.1" ry="17.7" fill="#884625" opacity="1" filter="url(#bl1)" transform="rotate(-15 41.4 41.7)"/>
<ellipse cx="50" cy="33" rx="8" ry="7" fill="#9d5b2d" opacity="0.7" filter="url(#bl2)"/>
<ellipse cx="41" cy="43.3" rx="11.4" ry="12.4" fill="#b9987e" opacity="1" filter="url(#bl2)"/>
<ellipse cx="30" cy="46" rx="4.5" ry="8" fill="#803625" opacity="0.8" filter="url(#bl2)" transform="rotate(-20 30 46)"/>
<ellipse cx="38" cy="56" rx="8" ry="3" fill="#88422b" opacity="0.7" filter="url(#bl2)"/>
<ellipse cx="47" cy="27" rx="6" ry="2" fill="#cea584" opacity="0.7" filter="url(#bl1)" transform="rotate(10 47 27)"/>
<rect x="0" y="66.6" width="80" height="13.400000000000006" fill="#d6d6d6"/>
<path d="M0.10 66.6V80M4.05 66.6V80M8.00 66.6V80M11.95 66.6V80M15.90 66.6V80M19.85 66.6V80M23.80 66.6V80M27.75 66.6V80M31.70 66.6V80M35.65 66.6V80M39.60 66.6V80M43.55 66.6V80M47.50 66.6V80M51.45 66.6V80M55.40 66.6V80M59.35 66.6V80M63.30 66.6V80M67.25 66.6V80M71.20 66.6V80M75.15 66.6V80M79.10 66.6V80" stroke="#505050" stroke-width="1.05" fill="none"/>
</g>
<rect x="0" y="0" width="79.6" height="78.9" fill="none" stroke="#1a1414" stroke-width="1.2"/>
</g>
<g transform="translate(549.9 340.6)"><g clip-path="url(#pc)">
<rect width="80" height="80" fill="#a98084"/>
<ellipse cx="35" cy="42" rx="32" ry="26" fill="#be9094" opacity="0.85" filter="url(#bl8)"/>
<ellipse cx="40" cy="77" rx="50" ry="8" fill="#906b6f" opacity="0.8" filter="url(#bl4)"/>
<polygon points="24,0 80,0 80,17 74,13 66,9 54,7 40,4 30,2" fill="#191013" opacity="0.95" filter="url(#bl1)"/>
<ellipse cx="39" cy="46.3" rx="18.5" ry="15.6" fill="#ce9da1" opacity="0.8" filter="url(#bl2)"/>
<ellipse cx="39" cy="46.5" rx="15.2" ry="12.6" fill="#ad3836" opacity="1" filter="url(#bl1)"/>
<ellipse cx="37" cy="44.5" rx="9" ry="6.5" fill="#c24e3e" opacity="0.8" filter="url(#bl2)"/>
<ellipse cx="44" cy="53" rx="4" ry="3" fill="#a52529" opacity="0.7" filter="url(#bl2)"/>
<rect x="0" y="68.5" width="80" height="11.5" fill="#d6d6d6"/>
<path d="M0.10 68.5V80M4.05 68.5V80M8.00 68.5V80M11.95 68.5V80M15.90 68.5V80M19.85 68.5V80M23.80 68.5V80M27.75 68.5V80M31.70 68.5V80M35.65 68.5V80M39.60 68.5V80M43.55 68.5V80M47.50 68.5V80M51.45 68.5V80M55.40 68.5V80M59.35 68.5V80M63.30 68.5V80M67.25 68.5V80M71.20 68.5V80M75.15 68.5V80M79.10 68.5V80" stroke="#505050" stroke-width="1.05" fill="none"/>
</g>
<rect x="0" y="0" width="79.6" height="78.9" fill="none" stroke="#1a1414" stroke-width="1.2"/>
</g>
<text x="445.30" y="475.10" font-size="16.8" font-weight="normal" text-anchor="end" fill="#0d0d0d" >Day 12</text>
<g transform="translate(456.8 430.7)"><g clip-path="url(#pc)">
<rect width="80" height="80" fill="#ad808a"/>
<ellipse cx="40" cy="40" rx="36" ry="28" fill="#be8c94" opacity="0.8" filter="url(#bl8)"/>
<ellipse cx="40" cy="77" rx="50" ry="8" fill="#906971" opacity="0.8" filter="url(#bl4)"/>
<rect x="-2" y="-3" width="46" height="8" fill="#2e1e22" filter="url(#bl2)" opacity="0.9"/>
<rect x="60" y="-3" width="24" height="7" fill="#4a3036" filter="url(#bl2)" opacity="0.8"/>
<ellipse cx="52" cy="3" rx="7" ry="3" fill="#ceadb1" opacity="0.7" filter="url(#bl2)"/>
<ellipse cx="41.2" cy="47.2" rx="14.8" ry="13.2" fill="#944e31" opacity="1" filter="url(#bl1)"/>
<ellipse cx="41.6" cy="46.4" rx="8" ry="8" fill="#a9734a" opacity="1" filter="url(#bl2)"/>
<ellipse cx="41" cy="31.5" rx="9" ry="2.5" fill="#b58c5b" opacity="0.5" filter="url(#bl1)" transform="rotate(-8 41 31.5)"/>
<ellipse cx="36.7" cy="61.3" rx="5" ry="2.3" fill="#cead84" opacity="0.85" filter="url(#bl1)" transform="rotate(15 36.7 61.3)"/>
<rect x="0" y="68.5" width="80" height="11.5" fill="#d6d6d6"/>
<path d="M0.10 68.5V80M4.05 68.5V80M8.00 68.5V80M11.95 68.5V80M15.90 68.5V80M19.85 68.5V80M23.80 68.5V80M27.75 68.5V80M31.70 68.5V80M35.65 68.5V80M39.60 68.5V80M43.55 68.5V80M47.50 68.5V80M51.45 68.5V80M55.40 68.5V80M59.35 68.5V80M63.30 68.5V80M67.25 68.5V80M71.20 68.5V80M75.15 68.5V80M79.10 68.5V80" stroke="#505050" stroke-width="1.05" fill="none"/>
</g>
<rect x="0" y="0" width="79.6" height="78.9" fill="none" stroke="#1a1414" stroke-width="1.2"/>
</g>
<g transform="translate(549.9 430.7)"><g clip-path="url(#pc)">
<rect width="80" height="80" fill="#a97c7c"/>
<ellipse cx="40" cy="38" rx="36" ry="26" fill="#b58488" opacity="0.8" filter="url(#bl8)"/>
<ellipse cx="40" cy="77" rx="50" ry="8" fill="#90676b" opacity="0.8" filter="url(#bl4)"/>
<polygon points="64,0 80,0 80,7 72,4" fill="#31211f" opacity="0.9" filter="url(#bl1)"/>
<ellipse cx="18" cy="3" rx="5" ry="2.5" fill="#8a6367" opacity="0.6" filter="url(#bl2)"/>
<ellipse cx="38.7" cy="48.5" rx="16.5" ry="12.5" fill="#c29094" opacity="0.7" filter="url(#bl2)"/>
<ellipse cx="38.7" cy="47.6" rx="13.5" ry="9.6" fill="#a5523e" opacity="1" filter="url(#bl1)"/>
<ellipse cx="36.5" cy="47.5" rx="9.5" ry="6.5" fill="#903629" opacity="0.95" filter="url(#bl2)"/>
<rect x="0" y="68.8" width="80" height="11.200000000000003" fill="#d6d6d6"/>
<path d="M0.10 68.8V80M4.05 68.8V80M8.00 68.8V80M11.95 68.8V80M15.90 68.8V80M19.85 68.8V80M23.80 68.8V80M27.75 68.8V80M31.70 68.8V80M35.65 68.8V80M39.60 68.8V80M43.55 68.8V80M47.50 68.8V80M51.45 68.8V80M55.40 68.8V80M59.35 68.8V80M63.30 68.8V80M67.25 68.8V80M71.20 68.8V80M75.15 68.8V80M79.10 68.8V80" stroke="#505050" stroke-width="1.05" fill="none"/>
</g>
<rect x="0" y="0" width="79.6" height="78.9" fill="none" stroke="#1a1414" stroke-width="1.2"/>
</g>
<text x="445.30" y="565.50" font-size="16.8" font-weight="normal" text-anchor="end" fill="#0d0d0d" >Day 15</text>
<g transform="translate(456.8 520.7)"><g clip-path="url(#pc)">
<rect width="80" height="80" fill="#a5757e"/>
<ellipse cx="40" cy="30" rx="36" ry="26" fill="#b5848c" opacity="0.8" filter="url(#bl8)"/>
<ellipse cx="40" cy="76" rx="50" ry="9" fill="#88636d" opacity="0.8" filter="url(#bl4)"/>
<ellipse cx="40.6" cy="46.6" rx="15.4" ry="13.8" fill="#a56740" opacity="1" filter="url(#bl1)"/>
<ellipse cx="33" cy="46" rx="5" ry="8" fill="#b57c52" opacity="0.8" filter="url(#bl2)"/>
<ellipse cx="45.1" cy="41" rx="6.5" ry="5" fill="#633129" opacity="0.95" filter="url(#bl2)"/>
<ellipse cx="45" cy="50" rx="4.5" ry="6" fill="#84422f" opacity="0.8" filter="url(#bl2)"/>
<ellipse cx="40" cy="57" rx="9" ry="3" fill="#b58863" opacity="0.7" filter="url(#bl2)"/>
<rect x="0" y="69.1" width="80" height="10.900000000000006" fill="#d6d6d6"/>
<path d="M0.10 69.1V80M4.05 69.1V80M8.00 69.1V80M11.95 69.1V80M15.90 69.1V80M19.85 69.1V80M23.80 69.1V80M27.75 69.1V80M31.70 69.1V80M35.65 69.1V80M39.60 69.1V80M43.55 69.1V80M47.50 69.1V80M51.45 69.1V80M55.40 69.1V80M59.35 69.1V80M63.30 69.1V80M67.25 69.1V80M71.20 69.1V80M75.15 69.1V80M79.10 69.1V80" stroke="#505050" stroke-width="1.05" fill="none"/>
</g>
<rect x="0" y="0" width="79.6" height="78.9" fill="none" stroke="#1a1414" stroke-width="1.2"/>
</g>
<g transform="translate(549.9 520.7)"><g clip-path="url(#pc)">
<rect width="80" height="80" fill="#9d776d"/>
<ellipse cx="45" cy="35" rx="36" ry="26" fill="#ad847c" opacity="0.8" filter="url(#bl8)"/>
<ellipse cx="40" cy="77" rx="50" ry="8" fill="#88635b" opacity="0.7" filter="url(#bl4)"/>
<ellipse cx="4.8" cy="12.7" rx="2.6" ry="2" fill="#905b31" opacity="0.9" filter="url(#bl05)"/>
<ellipse cx="38.2" cy="45.9" rx="15" ry="12" fill="#b56b5f" opacity="0.8" filter="url(#bl2)"/>
<ellipse cx="40.5" cy="47.5" rx="9.5" ry="3" fill="#903a29" opacity="1" filter="url(#bl1)" transform="rotate(10 40.5 47.5)"/>
<ellipse cx="30.7" cy="22.8" rx="2" ry="1.8" fill="#caa99d" opacity="0.8" filter="url(#bl05)"/>
<ellipse cx="24" cy="30" rx="1.5" ry="1.5" fill="#ceb5a9" opacity="0.8" filter="url(#bl05)"/>
<rect x="0" y="67.1" width="80" height="12.900000000000006" fill="#d6d6d6"/>
<path d="M0.10 67.1V80M4.05 67.1V80M8.00 67.1V80M11.95 67.1V80M15.90 67.1V80M19.85 67.1V80M23.80 67.1V80M27.75 67.1V80M31.70 67.1V80M35.65 67.1V80M39.60 67.1V80M43.55 67.1V80M47.50 67.1V80M51.45 67.1V80M55.40 67.1V80M59.35 67.1V80M63.30 67.1V80M67.25 67.1V80M71.20 67.1V80M75.15 67.1V80M79.10 67.1V80" stroke="#505050" stroke-width="1.05" fill="none"/>
</g>
<rect x="0" y="0" width="79.6" height="78.9" fill="none" stroke="#1a1414" stroke-width="1.2"/>
</g>
<text x="445.30" y="655.40" font-size="16.8" font-weight="normal" text-anchor="end" fill="#0d0d0d" >Day 18</text>
<g transform="translate(456.8 610.7)"><g clip-path="url(#pc)">
<rect width="80" height="80" fill="#a5737c"/>
<ellipse cx="40" cy="30" rx="36" ry="24" fill="#ad7c84" opacity="0.8" filter="url(#bl8)"/>
<ellipse cx="40" cy="77" rx="50" ry="8" fill="#88636d" opacity="0.7" filter="url(#bl4)"/>
<ellipse cx="43.8" cy="43.3" rx="16.7" ry="15" fill="#ad7c4a" opacity="0.75" filter="url(#bl2)"/>
<ellipse cx="38" cy="48" rx="7.5" ry="8" fill="#ad737c" opacity="0.9" filter="url(#bl2)"/>
<ellipse cx="48.9" cy="46.8" rx="5" ry="8" fill="#ad6b3a" opacity="0.7" filter="url(#bl2)"/>
<ellipse cx="40" cy="44.9" rx="2" ry="2.6" fill="#5f1d19" opacity="1" filter="url(#bl05)"/>
<ellipse cx="42" cy="51.5" rx="1.5" ry="3" fill="#904231" opacity="0.8" filter="url(#bl05)" transform="rotate(-20 42 51.5)"/>
<rect x="0" y="66.5" width="80" height="13.5" fill="#d6d6d6"/>
<path d="M0.10 66.5V80M4.05 66.5V80M8.00 66.5V80M11.95 66.5V80M15.90 66.5V80M19.85 66.5V80M23.80 66.5V80M27.75 66.5V80M31.70 66.5V80M35.65 66.5V80M39.60 66.5V80M43.55 66.5V80M47.50 66.5V80M51.45 66.5V80M55.40 66.5V80M59.35 66.5V80M63.30 66.5V80M67.25 66.5V80M71.20 66.5V80M75.15 66.5V80M79.10 66.5V80" stroke="#505050" stroke-width="1.05" fill="none"/>
</g>
<rect x="0" y="0" width="79.6" height="78.9" fill="none" stroke="#1a1414" stroke-width="1.2"/>
</g>
<g transform="translate(549.9 610.7)"><g clip-path="url(#pc)">
<rect width="80" height="80" fill="#94676b"/>
<ellipse cx="40" cy="35" rx="36" ry="24" fill="#a16f73" opacity="0.8" filter="url(#bl8)"/>
<ellipse cx="40" cy="77" rx="50" ry="8" fill="#805b5f" opacity="0.7" filter="url(#bl4)"/>
<polygon points="54,0 80,0 80,6 70,5 60,3" fill="#2b1d1d" opacity="0.9" filter="url(#bl1)"/>
<ellipse cx="4.5" cy="14" rx="2" ry="2.2" fill="#802d31" opacity="0.8" filter="url(#bl05)"/>
<ellipse cx="39" cy="46.6" rx="15.7" ry="11.6" fill="#a54e52" opacity="0.95" filter="url(#bl1)"/>
<ellipse cx="38" cy="48.5" rx="9" ry="2.2" fill="#be7c7c" opacity="0.6" filter="url(#bl1)"/>
<ellipse cx="45" cy="44" rx="6" ry="2.5" fill="#b97377" opacity="0.5" filter="url(#bl1)"/>
<ellipse cx="55" cy="32.5" rx="1.8" ry="2.6" fill="#ceadad" opacity="0.95" filter="url(#bl05)" transform="rotate(20 55 32.5)"/>
<rect x="0" y="67.1" width="80" height="12.900000000000006" fill="#d6d6d6"/>
<path d="M0.10 67.1V80M4.05 67.1V80M8.00 67.1V80M11.95 67.1V80M15.90 67.1V80M19.85 67.1V80M23.80 67.1V80M27.75 67.1V80M31.70 67.1V80M35.65 67.1V80M39.60 67.1V80M43.55 67.1V80M47.50 67.1V80M51.45 67.1V80M55.40 67.1V80M59.35 67.1V80M63.30 67.1V80M67.25 67.1V80M71.20 67.1V80M75.15 67.1V80M79.10 67.1V80" stroke="#505050" stroke-width="1.05" fill="none"/>
</g>
<rect x="0" y="0" width="79.6" height="78.9" fill="none" stroke="#1a1414" stroke-width="1.2"/>
</g>
</svg>
</body></html>
